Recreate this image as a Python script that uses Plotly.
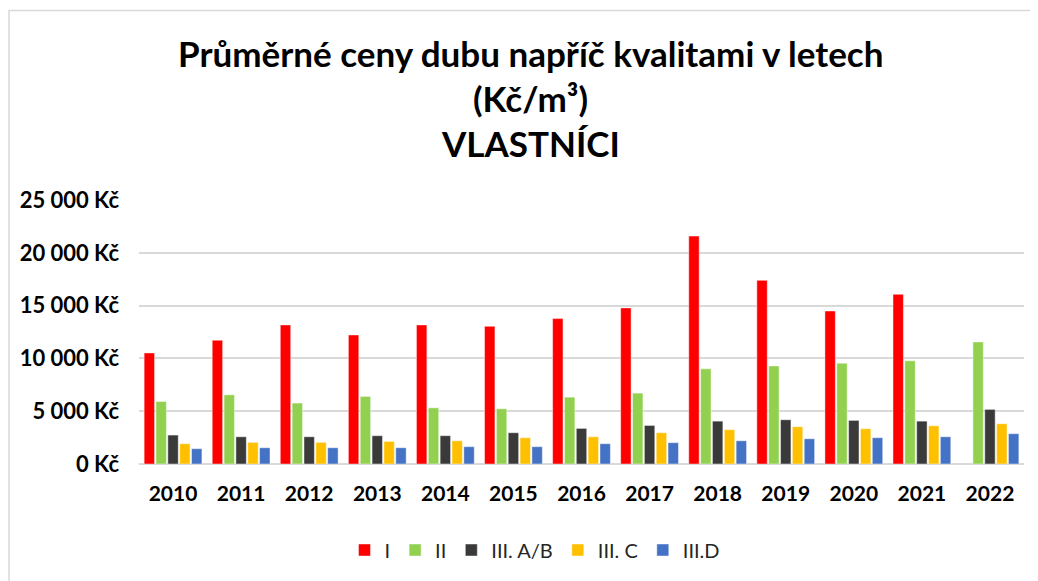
import plotly.graph_objects as go

years = ["2010", "2011", "2012", "2013", "2014", "2015", "2016",
         "2017", "2018", "2019", "2020", "2021", "2022"]

q_I = [10520, 11720, 13170, 12220, 13170, 13040, 13770,
       14780, 21580, 17390, 14490, 16070, None]
q_II = [5920, 6550, 5770, 6400, 5320, 5230, 6330,
        6710, 9010, 9290, 9550, 9770, 11560]
q_III_AB = [2740, 2580, 2580, 2680, 2680, 2960, 3370,
            3650, 4060, 4190, 4130, 4060, 5170]
q_III_C = [1920, 2050, 2050, 2140, 2200, 2490, 2580,
           2960, 3250, 3530, 3340, 3620, 3810]
q_III_D = [1450, 1540, 1540, 1540, 1640, 1640, 1920,
           2020, 2200, 2390, 2490, 2580, 2870]

series = [
    ("I", q_I, "#FF0000"),
    ("II", q_II, "#92D050"),
    ("III. A/B", q_III_AB, "#3A3A3A"),
    ("III. C", q_III_C, "#FFC000"),
    ("III.D", q_III_D, "#4472C4"),
]

FONT = "Lato"
OFF = 8  # page body margin

fig = go.Figure()
for name, vals, col in series:
    fig.add_trace(go.Bar(
        x=years, y=vals, name=name,
        marker=dict(color=col, line=dict(color="rgba(255,255,255,0.45)", width=1)),
    ))

# plot area on screen: x 139..1024, y 200..464
X0, X1, Y0, Y1 = 139, 1024, 200, 464

def py(ypx):
    return (Y1 - ypx) / (Y1 - Y0)

def px_(xpx):
    return (xpx - X0) / (X1 - X0)

title_lines = ["Průměrné ceny dubu napříč kvalitami v letech", "(Kč/m³)", "VLASTNÍCI"]
title_y = [53, 98, 143]
annotations = []
for txt, ypos in zip(title_lines, title_y):
    annotations.append(dict(
        text="<b>" + txt + "</b>", x=px_(530), y=py(ypos),
        xref="paper", yref="paper", xanchor="center", yanchor="middle",
        showarrow=False, font=dict(family=FONT, size=35, color="#000000"),
    ))

fig.update_layout(
    width=1038, height=581,
    margin=dict(l=X0 - OFF, r=1038 - (X1 - OFF), t=Y0 - OFF, b=581 - (Y1 - OFF)),
    paper_bgcolor="white", plot_bgcolor="white",
    font=dict(family=FONT, color="#000000"),
    separators=", ",
    barmode="group", bargap=0.13, bargroupgap=0.12,
    annotations=annotations,
    showlegend=True,
    legend=dict(
        orientation="h", x=px_(535), xanchor="center", y=py(550), yanchor="middle",
        font=dict(family=FONT, size=20, color="#262626"),
        itemwidth=30, traceorder="normal",
    ),
    shapes=[dict(
        type="rect", xref="paper", yref="paper",
        x0=px_(9), x1=px_(1060), y0=py(600), y1=py(10.5),
        line=dict(color="#D9D9D9", width=1.5), fillcolor="rgba(0,0,0,0)", layer="below",
    )],
)

fig.update_yaxes(
    range=[0, 25000], dtick=5000, tickformat=",.0f",
    showgrid=True, gridcolor="#D9D9D9", gridwidth=1.5,
    zeroline=True, zerolinecolor="#D9D9D9", zerolinewidth=1.5,
    tickfont=dict(family=FONT, size=22, color="#000000"),
    ticks="", ticklabelstandoff=19,
    tickprefix="<b>", ticksuffix=" Kč</b>",
)
fig.update_xaxes(
    type="category", showgrid=False, showline=False,
    tickfont=dict(family=FONT, size=21, color="#000000"),
    ticks="", ticklabelstandoff=15,
    tickprefix="<b>", ticksuffix="</b>",
)

fig.write_html("out.html")
